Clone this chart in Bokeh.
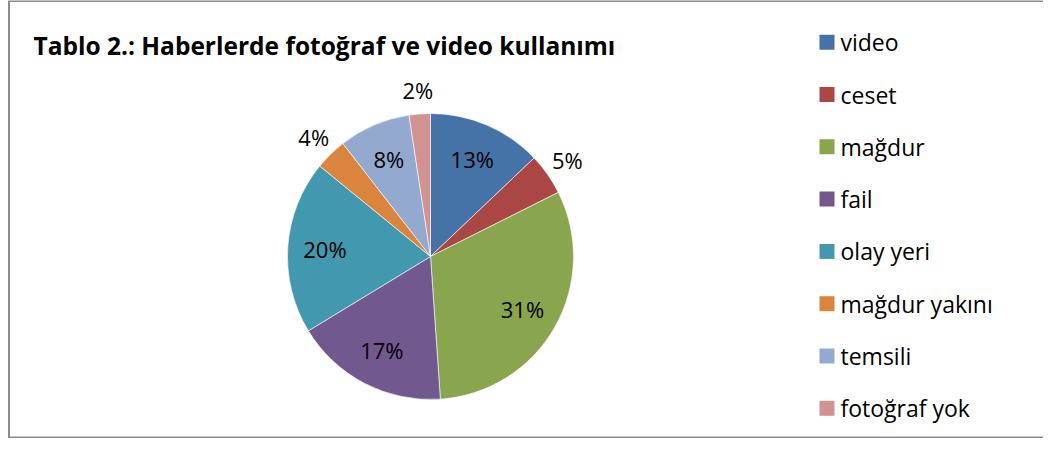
import math
from bokeh.plotting import figure
from bokeh.models import ColumnDataSource
from bokeh.core.properties import value
from bokeh.embed import file_html
from bokeh.resources import INLINE

categories = ["video", "ceset", "mağdur", "fail", "olay yeri", "mağdur yakını", "temsili", "fotoğraf yok"]
values = [12.9, 4.7, 31.3, 17.4, 19.6, 3.6, 8.1, 2.4]
colors = ["#4572A7", "#AA4643", "#89A54E", "#71588F", "#4198AF", "#DB843D", "#93A9CF", "#D19392"]
title_text = "Tablo 2.: Haberlerde fotoğraf ve video kullanımı"

W, H = 1043, 438
FONT = "Open Sans"

def px(X):
    return X

def py(Y):
    return H - Y

p = figure(width=W, height=H, x_range=(0, W), y_range=(0, H),
           output_backend="svg", toolbar_location=None, min_border=0)
p.axis.visible = False
p.grid.visible = False
p.outline_line_color = None
p.background_fill_color = "white"
p.border_fill_color = "white"

# chart-area border
p.quad(left=[px(8.5)], right=[px(W + 10)], top=[py(0.5)], bottom=[py(H - 1)],
       fill_color=None, line_color="#8c8c8c", line_width=2)

cx, cy, R = px(430), py(256), 143
total = sum(values)
starts, ends, lx, ly, labels = [], [], [], [], []
cum = 0.0
for v in values:
    a0 = math.pi / 2 - 2 * math.pi * cum / total
    cum += v
    a1 = math.pi / 2 - 2 * math.pi * cum / total
    starts.append(a0)
    ends.append(a1)
    mid = (a0 + a1) / 2
    frac = v / total
    rr = R * (0.74 if frac >= 0.06 else 1.17)
    lx.append(cx + rr * math.cos(mid))
    ly.append(cy + rr * math.sin(mid))
    labels.append(f"{round(100 * frac)}%")

src = ColumnDataSource(dict(start=starts, end=ends, color=colors, lx=lx, ly=ly, label=labels))
p.wedge(x=cx, y=cy, radius=R, radius_units="screen", start_angle="start", end_angle="end",
        direction="clock", fill_color="color", line_color="white", line_width=0.6, source=src)
p.text(x="lx", y="ly", text="label", source=src, text_align="center", text_baseline="middle",
       text_font=value(FONT), text_font_size="22px", text_color="black")

# title
p.text(x=[px(33)], y=[py(45)], text=[title_text], text_align="left", text_baseline="middle",
       text_font=value(FONT), text_font_size="24.5px", text_font_style="bold", text_color="black")

# legend
n = len(categories)
ys = [py(41.7 + i * 52.3) for i in range(n)]
p.rect(x=[px(826.5)] * n, y=ys, width=15, height=15, width_units="screen", height_units="screen",
       fill_color=colors, line_color=None)
p.text(x=[px(840)] * n, y=ys, text=categories, text_align="left", text_baseline="middle",
       text_font=value(FONT), text_font_size="23px", text_color="black")

open("out.html", "w").write(file_html(p, INLINE))
